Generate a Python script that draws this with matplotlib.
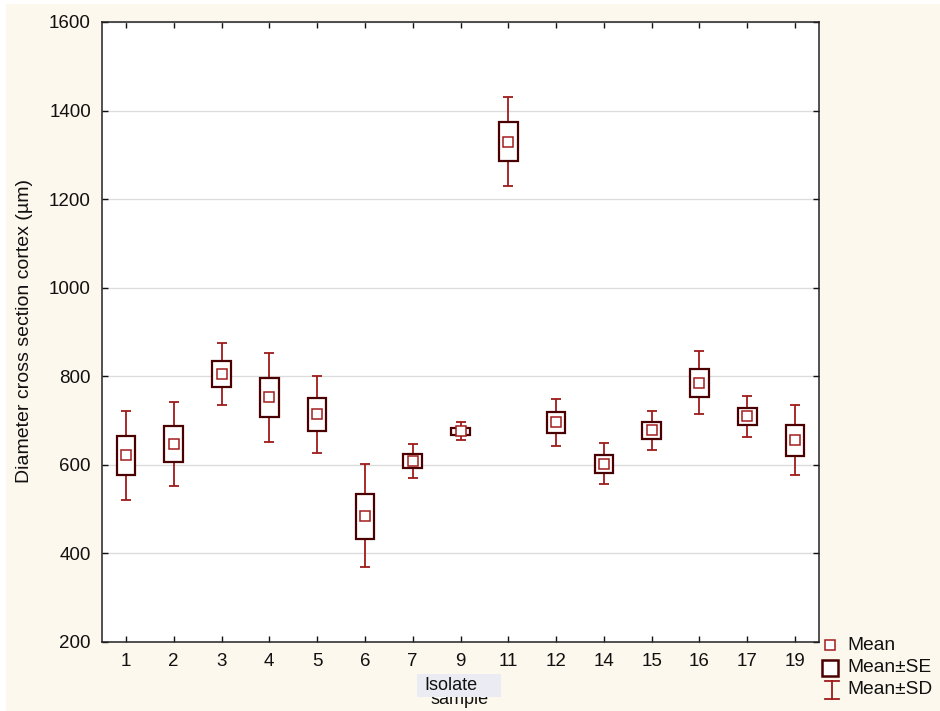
import matplotlib
matplotlib.use("Agg")
import matplotlib.pyplot as plt
import numpy as np
from matplotlib.patches import Rectangle
from matplotlib.lines import Line2D

plt.rcParams['font.family'] = ['Liberation Sans', 'DejaVu Sans']

# isolate / sample ids and the summary stats
samples = ['1', '2', '3', '4', '5', '6', '7', '9', '11', '12', '14', '15', '16', '17', '19']
mean = [623, 647, 806, 753, 715, 485, 609, 676, 1330, 696, 603, 679, 785, 710, 655]
se_lo = [577, 606, 776, 708, 676, 433, 594, 667, 1287, 673, 582, 659, 753, 690, 620]
se_hi = [665, 688, 835, 797, 752, 535, 625, 684, 1375, 720, 622, 697, 816, 728, 690]
sd_lo = [521, 553, 736, 652, 627, 369, 571, 655, 1230, 643, 556, 634, 714, 663, 576]
sd_hi = [722, 741, 876, 852, 801, 601, 647, 697, 1431, 749, 649, 722, 857, 755, 736]
yticks = [200, 400, 600, 800, 1000, 1200, 1400, 1600]
leg_labels = ['Mean', 'Mean±SE', 'Mean±SD']

mean_col = '#a31c1c'
se_col = '#4a0000'
sd_col = '#9e1b1b'
cream = '#fdf8ed'

W, H = 940, 711
fig = plt.figure(figsize=(W / 100, H / 100), dpi=100, facecolor='white')


def fx(px):
    return px / W


def fy(py):
    return 1 - py / H


# cream backdrop with thin white margin on top/left
fig.patches.append(Rectangle((fx(6), 0), 1 - fx(6), fy(4), transform=fig.transFigure,
                             facecolor=cream, edgecolor='none', zorder=-10))

ax = fig.add_axes([fx(102), fy(642), 717 / W, 620 / H])
ax.set_facecolor('white')

x = np.arange(len(samples))
m = np.array(mean)
err = [m - np.array(sd_lo), np.array(sd_hi) - m]
ax.errorbar(x, m, yerr=err, fmt='none', ecolor=sd_col, elinewidth=1.3,
            capsize=3.6, capthick=1.3, zorder=2)
ax.bar(x, np.array(se_hi) - np.array(se_lo), bottom=se_lo, width=0.39,
       facecolor='white', edgecolor=se_col, linewidth=1.6, zorder=3)
ax.plot(x, m, 's', ms=7, mfc='white', mec=mean_col, mew=1.1, zorder=4)

ax.set_xlim(-0.5, len(samples) - 0.5)
ax.set_ylim(200, 1600)
ax.set_xticks(x)
ax.set_xticklabels(samples)
ax.set_yticks(yticks)
ax.yaxis.grid(True, color='#dcdcdc', linewidth=1)
ax.set_axisbelow(True)
ax.tick_params(direction='in', length=4, width=1, top=True, right=True,
               labelsize=13.5, colors='#111111', pad=8)
for s in ax.spines.values():
    s.set_linewidth(1.1)
    s.set_color('#222222')

fig.text(fx(25), fy(331), 'Diameter cross section cortex (µm)', rotation=90,
         ha='center', va='center', fontsize=14, color='#111111')
fig.text(fx(460), fy(704), 'sample', ha='center', va='baseline', fontsize=13, color='#111111')
fig.patches.append(Rectangle((fx(417), fy(697)), 84 / W, 23 / H, transform=fig.transFigure,
                             facecolor='#ebebf3', edgecolor='none', zorder=5))
fig.text(fx(424), fy(686), 'Isolate', ha='left', va='center', fontsize=13,
         color='#111111', zorder=6)

# legend drawn by hand: small square, big square, I-beam
lx = 830
rows = [645, 668, 690]
fig.add_artist(Line2D([fx(lx)], [fy(rows[0])], marker='s', ls='none', ms=7,
                      mfc='white', mec=mean_col, mew=1.1, transform=fig.transFigure))
fig.add_artist(Line2D([fx(lx)], [fy(rows[1])], marker='s', ls='none', ms=11,
                      mfc='white', mec=se_col, mew=1.8, transform=fig.transFigure))
fig.add_artist(Line2D([fx(lx + 2)] * 2, [fy(rows[2] - 9), fy(rows[2] + 9)], color=sd_col,
                      lw=1.3, transform=fig.transFigure))
for yy in (rows[2] - 9, rows[2] + 9):
    fig.add_artist(Line2D([fx(lx - 5), fx(lx + 9)], [fy(yy)] * 2, color=sd_col,
                          lw=1.3, transform=fig.transFigure))
for lab, yy in zip(leg_labels, rows):
    fig.text(fx(847), fy(yy), lab, ha='left', va='center', fontsize=13.8, color='#111111')

fig.savefig('out.png', dpi=100, facecolor=fig.get_facecolor())
